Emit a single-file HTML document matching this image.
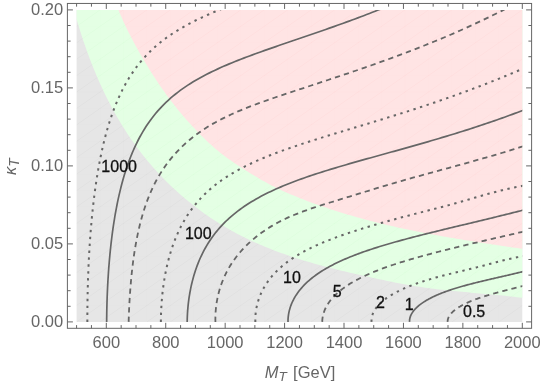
<!DOCTYPE html>
<html><head><meta charset="utf-8"><title>Contour plot</title>
<style>html,body{margin:0;padding:0;background:#fff;}body{width:540px;height:388px;position:relative;overflow:hidden;font-family:"Liberation Sans",sans-serif;}</style></head>
<body>
<svg width="540" height="388" viewBox="0 0 540 388" style="position:absolute;left:0;top:0;will-change:transform">
<defs><clipPath id="c"><rect x="76.59" y="9.90" width="445.71" height="312.00"/></clipPath></defs>
<g clip-path="url(#c)">
<rect x="75.59" y="8.90" width="447.71" height="314.00" fill="#e6e6e6"/>
<path d="M76.73,19.68 L77.54,22.40 L78.35,25.12 L79.18,27.83 L80.03,30.55 L80.89,33.26 L81.77,35.97 L82.66,38.68 L83.56,41.38 L84.48,44.08 L85.42,46.78 L86.37,49.48 L87.34,52.16 L88.32,54.85 L89.32,57.53 L90.34,60.21 L91.37,62.88 L92.42,65.54 L93.49,68.20 L94.57,70.85 L95.67,73.49 L96.79,76.13 L97.93,78.76 L99.08,81.39 L100.25,84.00 L101.44,86.61 L102.65,89.21 L103.88,91.80 L105.12,94.38 L106.38,96.95 L107.67,99.51 L108.97,102.06 L110.29,104.60 L111.63,107.13 L112.99,109.65 L114.37,112.16 L115.77,114.66 L117.19,117.14 L118.63,119.61 L120.10,122.07 L121.58,124.52 L123.08,126.95 L124.61,129.37 L126.15,131.78 L127.72,134.17 L129.31,136.55 L130.92,138.91 L132.55,141.26 L134.20,143.59 L135.88,145.91 L137.58,148.21 L139.30,150.50 L141.04,152.77 L142.81,155.02 L144.60,157.25 L146.41,159.47 L148.24,161.67 L150.09,163.86 L151.96,166.02 L153.86,168.17 L155.77,170.30 L157.70,172.41 L159.66,174.51 L161.63,176.58 L163.63,178.64 L165.64,180.68 L167.67,182.70 L169.73,184.70 L171.80,186.67 L173.89,188.63 L175.99,190.58 L178.12,192.50 L180.26,194.39 L182.42,196.27 L184.60,198.13 L186.80,199.97 L189.01,201.79 L191.24,203.58 L193.49,205.36 L195.75,207.11 L198.03,208.84 L200.33,210.55 L202.64,212.23 L204.97,213.90 L207.31,215.54 L209.67,217.16 L212.04,218.75 L214.43,220.32 L216.83,221.87 L219.25,223.40 L221.68,224.90 L224.13,226.37 L226.59,227.83 L229.06,229.26 L231.54,230.66 L234.04,232.04 L236.55,233.39 L239.08,234.72 L241.61,236.02 L244.16,237.30 L246.72,238.56 L249.30,239.79 L251.88,241.00 L254.47,242.19 L257.08,243.35 L259.69,244.49 L262.32,245.61 L264.95,246.71 L267.60,247.79 L270.25,248.85 L272.91,249.89 L275.59,250.91 L278.27,251.91 L280.95,252.89 L283.65,253.85 L286.35,254.80 L289.06,255.73 L291.78,256.64 L294.50,257.54 L297.23,258.42 L299.97,259.28 L302.71,260.13 L305.46,260.96 L308.21,261.78 L310.97,262.59 L313.73,263.38 L316.50,264.16 L319.27,264.93 L322.05,265.69 L324.82,266.43 L327.61,267.16 L330.39,267.89 L333.18,268.60 L335.97,269.30 L338.76,269.99 L341.55,270.67 L344.34,271.35 L347.14,272.01 L349.94,272.67 L352.73,273.32 L355.53,273.96 L358.33,274.60 L361.13,275.23 L363.92,275.86 L366.72,276.48 L369.52,277.09 L372.31,277.70 L375.10,278.31 L377.89,278.91 L380.68,279.50 L383.47,280.10 L386.26,280.68 L389.05,281.26 L391.83,281.82 L394.62,282.38 L397.41,282.93 L400.20,283.47 L403.00,283.99 L405.79,284.51 L408.59,285.01 L411.39,285.49 L414.19,285.97 L417.00,286.42 L419.81,286.86 L422.63,287.28 L425.45,287.68 L428.28,288.07 L431.10,288.44 L433.94,288.80 L436.77,289.15 L439.61,289.48 L442.46,289.80 L445.30,290.12 L448.15,290.42 L451.00,290.72 L453.85,291.00 L456.71,291.29 L459.56,291.56 L462.42,291.83 L465.28,292.10 L468.14,292.36 L471.00,292.63 L473.86,292.89 L476.72,293.14 L479.58,293.40 L482.44,293.66 L485.30,293.92 L488.16,294.19 L491.01,294.46 L493.87,294.73 L496.72,295.00 L499.57,295.28 L502.42,295.57 L505.26,295.87 L508.10,296.17 L510.94,296.48 L513.78,296.80 L516.61,297.13 L519.43,297.48 L522.26,297.83 L527.30,297.83 L527.30,4.90 L71.59,4.90 L71.59,19.68 Z" fill="#e4ffe4"/>
<path d="M118.40,4.90 L118.40,9.85 L119.36,12.18 L120.34,14.50 L121.34,16.81 L122.36,19.10 L123.39,21.39 L124.44,23.66 L125.51,25.92 L126.59,28.17 L127.68,30.42 L128.79,32.65 L129.91,34.87 L131.05,37.09 L132.20,39.30 L133.37,41.50 L134.54,43.70 L135.73,45.89 L136.94,48.07 L138.15,50.25 L139.38,52.42 L140.61,54.59 L141.86,56.76 L143.12,58.92 L144.39,61.08 L145.67,63.23 L146.96,65.37 L148.27,67.51 L149.59,69.65 L150.91,71.78 L152.25,73.90 L153.61,76.01 L154.97,78.11 L156.35,80.21 L157.73,82.30 L159.14,84.38 L160.55,86.45 L161.98,88.51 L163.42,90.56 L164.87,92.60 L166.34,94.63 L167.82,96.64 L169.31,98.65 L170.81,100.64 L172.33,102.62 L173.87,104.59 L175.41,106.54 L176.98,108.49 L178.55,110.42 L180.14,112.34 L181.74,114.24 L183.36,116.14 L184.99,118.02 L186.63,119.89 L188.29,121.75 L189.96,123.60 L191.65,125.44 L193.35,127.26 L195.06,129.08 L196.79,130.88 L198.53,132.68 L200.28,134.46 L202.04,136.23 L203.81,138.00 L205.59,139.74 L207.39,141.47 L209.21,143.19 L211.04,144.87 L212.90,146.54 L214.78,148.17 L216.68,149.78 L218.60,151.36 L220.54,152.91 L222.51,154.44 L224.49,155.95 L226.49,157.43 L228.50,158.89 L230.54,160.34 L232.58,161.76 L234.64,163.17 L236.72,164.57 L238.80,165.95 L240.90,167.32 L243.00,168.68 L245.11,170.02 L247.23,171.36 L249.36,172.69 L251.50,174.00 L253.65,175.30 L255.80,176.59 L257.96,177.87 L260.13,179.13 L262.30,180.38 L264.48,181.61 L266.67,182.82 L268.87,184.01 L271.08,185.18 L273.30,186.33 L275.54,187.44 L277.78,188.53 L280.04,189.60 L282.31,190.65 L284.58,191.68 L286.86,192.68 L289.16,193.67 L291.45,194.65 L293.76,195.61 L296.07,196.56 L298.39,197.50 L300.71,198.42 L303.03,199.34 L305.36,200.24 L307.70,201.13 L310.04,202.01 L312.39,202.88 L314.74,203.74 L317.09,204.59 L319.45,205.42 L321.81,206.25 L324.18,207.06 L326.55,207.87 L328.92,208.66 L331.30,209.45 L333.68,210.22 L336.07,210.98 L338.46,211.74 L340.85,212.48 L343.25,213.22 L345.65,213.94 L348.05,214.66 L350.45,215.36 L352.86,216.06 L355.27,216.75 L357.68,217.42 L360.10,218.09 L362.51,218.75 L364.93,219.41 L367.35,220.05 L369.78,220.68 L372.20,221.31 L374.63,221.93 L377.06,222.54 L379.49,223.14 L381.92,223.73 L384.35,224.32 L386.79,224.90 L389.22,225.47 L391.66,226.03 L394.10,226.59 L396.54,227.14 L398.98,227.68 L401.43,228.21 L403.87,228.74 L406.32,229.26 L408.77,229.78 L411.21,230.29 L413.66,230.79 L416.12,231.29 L418.57,231.78 L421.02,232.26 L423.48,232.74 L425.93,233.22 L428.39,233.69 L430.85,234.15 L433.31,234.61 L435.77,235.06 L438.23,235.51 L440.69,235.95 L443.15,236.39 L445.62,236.83 L448.08,237.26 L450.55,237.68 L453.01,238.11 L455.48,238.53 L457.95,238.94 L460.42,239.35 L462.89,239.76 L465.36,240.16 L467.83,240.56 L470.30,240.96 L472.77,241.36 L475.24,241.75 L477.71,242.14 L480.19,242.52 L482.66,242.91 L485.14,243.29 L487.61,243.67 L490.09,244.05 L492.56,244.42 L495.04,244.80 L497.51,245.17 L499.99,245.54 L502.47,245.91 L504.95,246.28 L507.42,246.64 L509.90,247.01 L512.38,247.38 L514.86,247.74 L517.33,248.10 L519.81,248.47 L522.29,248.83 L527.30,248.83 L527.30,4.90 Z" fill="#ffe4e4"/>
<defs><clipPath id="cg"><path d="M76.73,19.68 L77.54,22.40 L78.35,25.12 L79.18,27.83 L80.03,30.55 L80.89,33.26 L81.77,35.97 L82.66,38.68 L83.56,41.38 L84.48,44.08 L85.42,46.78 L86.37,49.48 L87.34,52.16 L88.32,54.85 L89.32,57.53 L90.34,60.21 L91.37,62.88 L92.42,65.54 L93.49,68.20 L94.57,70.85 L95.67,73.49 L96.79,76.13 L97.93,78.76 L99.08,81.39 L100.25,84.00 L101.44,86.61 L102.65,89.21 L103.88,91.80 L105.12,94.38 L106.38,96.95 L107.67,99.51 L108.97,102.06 L110.29,104.60 L111.63,107.13 L112.99,109.65 L114.37,112.16 L115.77,114.66 L117.19,117.14 L118.63,119.61 L120.10,122.07 L121.58,124.52 L123.08,126.95 L124.61,129.37 L126.15,131.78 L127.72,134.17 L129.31,136.55 L130.92,138.91 L132.55,141.26 L134.20,143.59 L135.88,145.91 L137.58,148.21 L139.30,150.50 L141.04,152.77 L142.81,155.02 L144.60,157.25 L146.41,159.47 L148.24,161.67 L150.09,163.86 L151.96,166.02 L153.86,168.17 L155.77,170.30 L157.70,172.41 L159.66,174.51 L161.63,176.58 L163.63,178.64 L165.64,180.68 L167.67,182.70 L169.73,184.70 L171.80,186.67 L173.89,188.63 L175.99,190.58 L178.12,192.50 L180.26,194.39 L182.42,196.27 L184.60,198.13 L186.80,199.97 L189.01,201.79 L191.24,203.58 L193.49,205.36 L195.75,207.11 L198.03,208.84 L200.33,210.55 L202.64,212.23 L204.97,213.90 L207.31,215.54 L209.67,217.16 L212.04,218.75 L214.43,220.32 L216.83,221.87 L219.25,223.40 L221.68,224.90 L224.13,226.37 L226.59,227.83 L229.06,229.26 L231.54,230.66 L234.04,232.04 L236.55,233.39 L239.08,234.72 L241.61,236.02 L244.16,237.30 L246.72,238.56 L249.30,239.79 L251.88,241.00 L254.47,242.19 L257.08,243.35 L259.69,244.49 L262.32,245.61 L264.95,246.71 L267.60,247.79 L270.25,248.85 L272.91,249.89 L275.59,250.91 L278.27,251.91 L280.95,252.89 L283.65,253.85 L286.35,254.80 L289.06,255.73 L291.78,256.64 L294.50,257.54 L297.23,258.42 L299.97,259.28 L302.71,260.13 L305.46,260.96 L308.21,261.78 L310.97,262.59 L313.73,263.38 L316.50,264.16 L319.27,264.93 L322.05,265.69 L324.82,266.43 L327.61,267.16 L330.39,267.89 L333.18,268.60 L335.97,269.30 L338.76,269.99 L341.55,270.67 L344.34,271.35 L347.14,272.01 L349.94,272.67 L352.73,273.32 L355.53,273.96 L358.33,274.60 L361.13,275.23 L363.92,275.86 L366.72,276.48 L369.52,277.09 L372.31,277.70 L375.10,278.31 L377.89,278.91 L380.68,279.50 L383.47,280.10 L386.26,280.68 L389.05,281.26 L391.83,281.82 L394.62,282.38 L397.41,282.93 L400.20,283.47 L403.00,283.99 L405.79,284.51 L408.59,285.01 L411.39,285.49 L414.19,285.97 L417.00,286.42 L419.81,286.86 L422.63,287.28 L425.45,287.68 L428.28,288.07 L431.10,288.44 L433.94,288.80 L436.77,289.15 L439.61,289.48 L442.46,289.80 L445.30,290.12 L448.15,290.42 L451.00,290.72 L453.85,291.00 L456.71,291.29 L459.56,291.56 L462.42,291.83 L465.28,292.10 L468.14,292.36 L471.00,292.63 L473.86,292.89 L476.72,293.14 L479.58,293.40 L482.44,293.66 L485.30,293.92 L488.16,294.19 L491.01,294.46 L493.87,294.73 L496.72,295.00 L499.57,295.28 L502.42,295.57 L505.26,295.87 L508.10,296.17 L510.94,296.48 L513.78,296.80 L516.61,297.13 L519.43,297.48 L522.26,297.83 L527.30,297.83 L527.30,326.90 L71.59,326.90 L71.59,19.68 Z"/></clipPath><clipPath id="cn"><path d="M71.59,19.68 L76.73,19.68 L77.54,22.40 L78.35,25.12 L79.18,27.83 L80.03,30.55 L80.89,33.26 L81.77,35.97 L82.66,38.68 L83.56,41.38 L84.48,44.08 L85.42,46.78 L86.37,49.48 L87.34,52.16 L88.32,54.85 L89.32,57.53 L90.34,60.21 L91.37,62.88 L92.42,65.54 L93.49,68.20 L94.57,70.85 L95.67,73.49 L96.79,76.13 L97.93,78.76 L99.08,81.39 L100.25,84.00 L101.44,86.61 L102.65,89.21 L103.88,91.80 L105.12,94.38 L106.38,96.95 L107.67,99.51 L108.97,102.06 L110.29,104.60 L111.63,107.13 L112.99,109.65 L114.37,112.16 L115.77,114.66 L117.19,117.14 L118.63,119.61 L120.10,122.07 L121.58,124.52 L123.08,126.95 L124.61,129.37 L126.15,131.78 L127.72,134.17 L129.31,136.55 L130.92,138.91 L132.55,141.26 L134.20,143.59 L135.88,145.91 L137.58,148.21 L139.30,150.50 L141.04,152.77 L142.81,155.02 L144.60,157.25 L146.41,159.47 L148.24,161.67 L150.09,163.86 L151.96,166.02 L153.86,168.17 L155.77,170.30 L157.70,172.41 L159.66,174.51 L161.63,176.58 L163.63,178.64 L165.64,180.68 L167.67,182.70 L169.73,184.70 L171.80,186.67 L173.89,188.63 L175.99,190.58 L178.12,192.50 L180.26,194.39 L182.42,196.27 L184.60,198.13 L186.80,199.97 L189.01,201.79 L191.24,203.58 L193.49,205.36 L195.75,207.11 L198.03,208.84 L200.33,210.55 L202.64,212.23 L204.97,213.90 L207.31,215.54 L209.67,217.16 L212.04,218.75 L214.43,220.32 L216.83,221.87 L219.25,223.40 L221.68,224.90 L224.13,226.37 L226.59,227.83 L229.06,229.26 L231.54,230.66 L234.04,232.04 L236.55,233.39 L239.08,234.72 L241.61,236.02 L244.16,237.30 L246.72,238.56 L249.30,239.79 L251.88,241.00 L254.47,242.19 L257.08,243.35 L259.69,244.49 L262.32,245.61 L264.95,246.71 L267.60,247.79 L270.25,248.85 L272.91,249.89 L275.59,250.91 L278.27,251.91 L280.95,252.89 L283.65,253.85 L286.35,254.80 L289.06,255.73 L291.78,256.64 L294.50,257.54 L297.23,258.42 L299.97,259.28 L302.71,260.13 L305.46,260.96 L308.21,261.78 L310.97,262.59 L313.73,263.38 L316.50,264.16 L319.27,264.93 L322.05,265.69 L324.82,266.43 L327.61,267.16 L330.39,267.89 L333.18,268.60 L335.97,269.30 L338.76,269.99 L341.55,270.67 L344.34,271.35 L347.14,272.01 L349.94,272.67 L352.73,273.32 L355.53,273.96 L358.33,274.60 L361.13,275.23 L363.92,275.86 L366.72,276.48 L369.52,277.09 L372.31,277.70 L375.10,278.31 L377.89,278.91 L380.68,279.50 L383.47,280.10 L386.26,280.68 L389.05,281.26 L391.83,281.82 L394.62,282.38 L397.41,282.93 L400.20,283.47 L403.00,283.99 L405.79,284.51 L408.59,285.01 L411.39,285.49 L414.19,285.97 L417.00,286.42 L419.81,286.86 L422.63,287.28 L425.45,287.68 L428.28,288.07 L431.10,288.44 L433.94,288.80 L436.77,289.15 L439.61,289.48 L442.46,289.80 L445.30,290.12 L448.15,290.42 L451.00,290.72 L453.85,291.00 L456.71,291.29 L459.56,291.56 L462.42,291.83 L465.28,292.10 L468.14,292.36 L471.00,292.63 L473.86,292.89 L476.72,293.14 L479.58,293.40 L482.44,293.66 L485.30,293.92 L488.16,294.19 L491.01,294.46 L493.87,294.73 L496.72,295.00 L499.57,295.28 L502.42,295.57 L505.26,295.87 L508.10,296.17 L510.94,296.48 L513.78,296.80 L516.61,297.13 L519.43,297.48 L522.26,297.83 L527.30,297.83 L527.30,248.83 L522.29,248.83 L519.81,248.47 L517.33,248.10 L514.86,247.74 L512.38,247.38 L509.90,247.01 L507.42,246.64 L504.95,246.28 L502.47,245.91 L499.99,245.54 L497.51,245.17 L495.04,244.80 L492.56,244.42 L490.09,244.05 L487.61,243.67 L485.14,243.29 L482.66,242.91 L480.19,242.52 L477.71,242.14 L475.24,241.75 L472.77,241.36 L470.30,240.96 L467.83,240.56 L465.36,240.16 L462.89,239.76 L460.42,239.35 L457.95,238.94 L455.48,238.53 L453.01,238.11 L450.55,237.68 L448.08,237.26 L445.62,236.83 L443.15,236.39 L440.69,235.95 L438.23,235.51 L435.77,235.06 L433.31,234.61 L430.85,234.15 L428.39,233.69 L425.93,233.22 L423.48,232.74 L421.02,232.26 L418.57,231.78 L416.12,231.29 L413.66,230.79 L411.21,230.29 L408.77,229.78 L406.32,229.26 L403.87,228.74 L401.43,228.21 L398.98,227.68 L396.54,227.14 L394.10,226.59 L391.66,226.03 L389.22,225.47 L386.79,224.90 L384.35,224.32 L381.92,223.73 L379.49,223.14 L377.06,222.54 L374.63,221.93 L372.20,221.31 L369.78,220.68 L367.35,220.05 L364.93,219.41 L362.51,218.75 L360.10,218.09 L357.68,217.42 L355.27,216.75 L352.86,216.06 L350.45,215.36 L348.05,214.66 L345.65,213.94 L343.25,213.22 L340.85,212.48 L338.46,211.74 L336.07,210.98 L333.68,210.22 L331.30,209.45 L328.92,208.66 L326.55,207.87 L324.18,207.06 L321.81,206.25 L319.45,205.42 L317.09,204.59 L314.74,203.74 L312.39,202.88 L310.04,202.01 L307.70,201.13 L305.36,200.24 L303.03,199.34 L300.71,198.42 L298.39,197.50 L296.07,196.56 L293.76,195.61 L291.45,194.65 L289.16,193.67 L286.86,192.68 L284.58,191.68 L282.31,190.65 L280.04,189.60 L277.78,188.53 L275.54,187.44 L273.30,186.33 L271.08,185.18 L268.87,184.01 L266.67,182.82 L264.48,181.61 L262.30,180.38 L260.13,179.13 L257.96,177.87 L255.80,176.59 L253.65,175.30 L251.50,174.00 L249.36,172.69 L247.23,171.36 L245.11,170.02 L243.00,168.68 L240.90,167.32 L238.80,165.95 L236.72,164.57 L234.64,163.17 L232.58,161.76 L230.54,160.34 L228.50,158.89 L226.49,157.43 L224.49,155.95 L222.51,154.44 L220.54,152.91 L218.60,151.36 L216.68,149.78 L214.78,148.17 L212.90,146.54 L211.04,144.87 L209.21,143.19 L207.39,141.47 L205.59,139.74 L203.81,138.00 L202.04,136.23 L200.28,134.46 L198.53,132.68 L196.79,130.88 L195.06,129.08 L193.35,127.26 L191.65,125.44 L189.96,123.60 L188.29,121.75 L186.63,119.89 L184.99,118.02 L183.36,116.14 L181.74,114.24 L180.14,112.34 L178.55,110.42 L176.98,108.49 L175.41,106.54 L173.87,104.59 L172.33,102.62 L170.81,100.64 L169.31,98.65 L167.82,96.64 L166.34,94.63 L164.87,92.60 L163.42,90.56 L161.98,88.51 L160.55,86.45 L159.14,84.38 L157.73,82.30 L156.35,80.21 L154.97,78.11 L153.61,76.01 L152.25,73.90 L150.91,71.78 L149.59,69.65 L148.27,67.51 L146.96,65.37 L145.67,63.23 L144.39,61.08 L143.12,58.92 L141.86,56.76 L140.61,54.59 L139.38,52.42 L138.15,50.25 L136.94,48.07 L135.73,45.89 L134.54,43.70 L133.37,41.50 L132.20,39.30 L131.05,37.09 L129.91,34.87 L128.79,32.65 L127.68,30.42 L126.59,28.17 L125.51,25.92 L124.44,23.66 L123.39,21.39 L122.36,19.10 L121.34,16.81 L120.34,14.50 L119.36,12.18 L118.40,9.85 L118.40,4.90 L71.59,4.90 Z"/></clipPath><clipPath id="cp"><path d="M118.40,4.90 L118.40,9.85 L119.36,12.18 L120.34,14.50 L121.34,16.81 L122.36,19.10 L123.39,21.39 L124.44,23.66 L125.51,25.92 L126.59,28.17 L127.68,30.42 L128.79,32.65 L129.91,34.87 L131.05,37.09 L132.20,39.30 L133.37,41.50 L134.54,43.70 L135.73,45.89 L136.94,48.07 L138.15,50.25 L139.38,52.42 L140.61,54.59 L141.86,56.76 L143.12,58.92 L144.39,61.08 L145.67,63.23 L146.96,65.37 L148.27,67.51 L149.59,69.65 L150.91,71.78 L152.25,73.90 L153.61,76.01 L154.97,78.11 L156.35,80.21 L157.73,82.30 L159.14,84.38 L160.55,86.45 L161.98,88.51 L163.42,90.56 L164.87,92.60 L166.34,94.63 L167.82,96.64 L169.31,98.65 L170.81,100.64 L172.33,102.62 L173.87,104.59 L175.41,106.54 L176.98,108.49 L178.55,110.42 L180.14,112.34 L181.74,114.24 L183.36,116.14 L184.99,118.02 L186.63,119.89 L188.29,121.75 L189.96,123.60 L191.65,125.44 L193.35,127.26 L195.06,129.08 L196.79,130.88 L198.53,132.68 L200.28,134.46 L202.04,136.23 L203.81,138.00 L205.59,139.74 L207.39,141.47 L209.21,143.19 L211.04,144.87 L212.90,146.54 L214.78,148.17 L216.68,149.78 L218.60,151.36 L220.54,152.91 L222.51,154.44 L224.49,155.95 L226.49,157.43 L228.50,158.89 L230.54,160.34 L232.58,161.76 L234.64,163.17 L236.72,164.57 L238.80,165.95 L240.90,167.32 L243.00,168.68 L245.11,170.02 L247.23,171.36 L249.36,172.69 L251.50,174.00 L253.65,175.30 L255.80,176.59 L257.96,177.87 L260.13,179.13 L262.30,180.38 L264.48,181.61 L266.67,182.82 L268.87,184.01 L271.08,185.18 L273.30,186.33 L275.54,187.44 L277.78,188.53 L280.04,189.60 L282.31,190.65 L284.58,191.68 L286.86,192.68 L289.16,193.67 L291.45,194.65 L293.76,195.61 L296.07,196.56 L298.39,197.50 L300.71,198.42 L303.03,199.34 L305.36,200.24 L307.70,201.13 L310.04,202.01 L312.39,202.88 L314.74,203.74 L317.09,204.59 L319.45,205.42 L321.81,206.25 L324.18,207.06 L326.55,207.87 L328.92,208.66 L331.30,209.45 L333.68,210.22 L336.07,210.98 L338.46,211.74 L340.85,212.48 L343.25,213.22 L345.65,213.94 L348.05,214.66 L350.45,215.36 L352.86,216.06 L355.27,216.75 L357.68,217.42 L360.10,218.09 L362.51,218.75 L364.93,219.41 L367.35,220.05 L369.78,220.68 L372.20,221.31 L374.63,221.93 L377.06,222.54 L379.49,223.14 L381.92,223.73 L384.35,224.32 L386.79,224.90 L389.22,225.47 L391.66,226.03 L394.10,226.59 L396.54,227.14 L398.98,227.68 L401.43,228.21 L403.87,228.74 L406.32,229.26 L408.77,229.78 L411.21,230.29 L413.66,230.79 L416.12,231.29 L418.57,231.78 L421.02,232.26 L423.48,232.74 L425.93,233.22 L428.39,233.69 L430.85,234.15 L433.31,234.61 L435.77,235.06 L438.23,235.51 L440.69,235.95 L443.15,236.39 L445.62,236.83 L448.08,237.26 L450.55,237.68 L453.01,238.11 L455.48,238.53 L457.95,238.94 L460.42,239.35 L462.89,239.76 L465.36,240.16 L467.83,240.56 L470.30,240.96 L472.77,241.36 L475.24,241.75 L477.71,242.14 L480.19,242.52 L482.66,242.91 L485.14,243.29 L487.61,243.67 L490.09,244.05 L492.56,244.42 L495.04,244.80 L497.51,245.17 L499.99,245.54 L502.47,245.91 L504.95,246.28 L507.42,246.64 L509.90,247.01 L512.38,247.38 L514.86,247.74 L517.33,248.10 L519.81,248.47 L522.29,248.83 L527.30,248.83 L527.30,4.90 Z"/></clipPath></defs>
<defs><g id="mesh" fill="none"><path d="M-369.13,321.90L76.59,9.90 M-345.67,321.90L100.04,9.90 M-322.21,321.90L123.50,9.90 M-298.75,321.90L146.96,9.90 M-275.29,321.90L170.42,9.90 M-251.84,321.90L193.88,9.90 M-228.38,321.90L217.34,9.90 M-204.92,321.90L240.80,9.90 M-181.46,321.90L264.25,9.90 M-158.00,321.90L287.71,9.90 M-134.54,321.90L311.17,9.90 M-111.08,321.90L334.63,9.90 M-87.62,321.90L358.09,9.90 M-64.17,321.90L381.55,9.90 M-40.71,321.90L405.01,9.90 M-17.25,321.90L428.47,9.90 M6.21,321.90L451.92,9.90 M29.67,321.90L475.38,9.90 M53.13,321.90L498.84,9.90 M76.59,321.90L522.30,9.90 M100.04,321.90L545.76,9.90 M123.50,321.90L569.22,9.90 M146.96,321.90L592.68,9.90 M170.42,321.90L616.13,9.90 M193.88,321.90L639.59,9.90 M217.34,321.90L663.05,9.90 M240.80,321.90L686.51,9.90 M264.25,321.90L709.97,9.90 M287.71,321.90L733.43,9.90 M311.17,321.90L756.89,9.90 M334.63,321.90L780.35,9.90 M358.09,321.90L803.80,9.90 M381.55,321.90L827.26,9.90 M405.01,321.90L850.72,9.90 M428.47,321.90L874.18,9.90 M451.92,321.90L897.64,9.90 M475.38,321.90L921.10,9.90 M498.84,321.90L944.56,9.90" stroke-width="0.8" stroke-opacity="0.03"/><path d="M100.04,9.90V321.90 M123.50,9.90V321.90 M146.96,9.90V321.90 M170.42,9.90V321.90 M193.88,9.90V321.90 M217.34,9.90V321.90 M240.80,9.90V321.90 M264.25,9.90V321.90 M287.71,9.90V321.90 M311.17,9.90V321.90 M334.63,9.90V321.90 M358.09,9.90V321.90 M381.55,9.90V321.90 M405.01,9.90V321.90 M428.47,9.90V321.90 M451.92,9.90V321.90 M475.38,9.90V321.90 M498.84,9.90V321.90 M76.59,26.32H522.30 M76.59,42.74H522.30 M76.59,59.16H522.30 M76.59,75.58H522.30 M76.59,92.01H522.30 M76.59,108.43H522.30 M76.59,124.85H522.30 M76.59,141.27H522.30 M76.59,157.69H522.30 M76.59,174.11H522.30 M76.59,190.53H522.30 M76.59,206.95H522.30 M76.59,223.37H522.30 M76.59,239.79H522.30 M76.59,256.22H522.30 M76.59,272.64H522.30 M76.59,289.06H522.30 M76.59,305.48H522.30" stroke-width="0.6" stroke-opacity="0.015"/></g></defs>
<use href="#mesh" clip-path="url(#cg)" stroke="#000"/><use href="#mesh" clip-path="url(#cn)" stroke="#00c000"/><use href="#mesh" clip-path="url(#cp)" stroke="#ff0000"/>
<path d="M87.35,321.90 L87.35,319.43 L87.35,316.95 L87.36,314.48 L87.37,312.01 L87.39,309.54 L87.42,307.06 L87.44,304.59 L87.48,302.12 L87.52,299.65 L87.56,297.17 L87.61,294.70 L87.66,292.23 L87.72,289.76 L87.78,287.29 L87.85,284.81 L87.92,282.34 L88.00,279.87 L88.08,277.40 L88.17,274.93 L88.27,272.46 L88.37,269.99 L88.47,267.52 L88.58,265.05 L88.70,262.58 L88.82,260.11 L88.94,257.64 L89.08,255.17 L89.22,252.70 L89.36,250.23 L89.51,247.76 L89.67,245.30 L89.83,242.83 L90.00,240.36 L90.18,237.90 L90.36,235.43 L90.55,232.97 L90.74,230.50 L90.94,228.04 L91.15,225.57 L91.37,223.11 L91.59,220.65 L91.82,218.19 L92.06,215.72 L92.31,213.26 L92.56,210.80 L92.83,208.35 L93.10,205.89 L93.38,203.43 L93.66,200.98 L93.96,198.52 L94.26,196.07 L94.58,193.62 L94.90,191.17 L95.24,188.72 L95.58,186.27 L95.93,183.82 L96.30,181.38 L96.67,178.93 L97.06,176.49 L97.46,174.05 L97.86,171.61 L98.28,169.18 L98.72,166.74 L99.16,164.31 L99.62,161.88 L100.09,159.45 L100.58,157.03 L101.07,154.61 L101.59,152.19 L102.12,149.78 L102.66,147.36 L103.22,144.96 L103.79,142.55 L104.38,140.15 L104.99,137.76 L105.62,135.37 L106.26,132.98 L106.93,130.60 L107.61,128.22 L108.31,125.85 L109.04,123.49 L109.78,121.13 L110.55,118.78 L111.34,116.44 L112.15,114.11 L112.98,111.78 L113.84,109.46 L114.73,107.16 L115.64,104.86 L116.58,102.57 L117.54,100.30 L118.54,98.04 L119.56,95.79 L120.61,93.55 L121.69,91.33 L122.80,89.12 L123.95,86.93 L125.12,84.75 L126.33,82.60 L127.57,80.46 L128.84,78.34 L130.15,76.25 L131.50,74.17 L132.87,72.12 L134.29,70.10 L135.74,68.09 L137.22,66.12 L138.74,64.16 L140.29,62.24 L141.88,60.35 L143.50,58.48 L145.16,56.65 L146.84,54.84 L148.57,53.07 L150.32,51.33 L152.11,49.62 L153.92,47.94 L155.77,46.30 L157.64,44.68 L159.54,43.10 L161.47,41.56 L163.43,40.04 L165.40,38.56 L167.40,37.10 L169.43,35.68 L171.47,34.29 L173.54,32.93 L175.62,31.59 L177.72,30.29 L179.84,29.01 L181.97,27.76 L184.12,26.53 L186.28,25.33 L188.45,24.15 L190.64,23.00 L192.84,21.86 L195.05,20.75 L197.27,19.66 L199.50,18.59 L201.74,17.53 L203.98,16.49 L206.24,15.47 L208.50,14.47 L210.76,13.48 L213.04,12.50 L215.31,11.54 L217.60,10.59 L219.89,9.65 L222.18,8.72 L224.48,7.81 L226.78,6.90 L229.09,6.00 L231.40,5.11 L233.71,4.23 L236.02,3.36 L238.34,2.49 L240.66,1.63 L242.98,0.77 L245.30,-0.08" fill="none" stroke="#666" stroke-width="2" stroke-dasharray="2.4 4.5"/>
<path d="M106.66,321.90 L106.68,318.79 L106.72,315.69 L106.76,312.58 L106.82,309.47 L106.89,306.37 L106.97,303.26 L107.07,300.16 L107.17,297.05 L107.29,293.95 L107.42,290.85 L107.56,287.74 L107.72,284.64 L107.88,281.54 L108.06,278.44 L108.26,275.34 L108.46,272.24 L108.68,269.14 L108.92,266.04 L109.17,262.95 L109.43,259.85 L109.71,256.76 L110.00,253.67 L110.31,250.58 L110.63,247.49 L110.97,244.40 L111.32,241.31 L111.70,238.23 L112.09,235.15 L112.49,232.07 L112.92,228.99 L113.37,225.92 L113.83,222.85 L114.32,219.78 L114.82,216.71 L115.35,213.65 L115.90,210.59 L116.48,207.54 L117.07,204.49 L117.69,201.45 L118.34,198.41 L119.02,195.38 L119.72,192.35 L120.45,189.33 L121.21,186.32 L121.99,183.31 L122.82,180.32 L123.67,177.33 L124.56,174.35 L125.48,171.38 L126.44,168.43 L127.44,165.49 L128.48,162.56 L129.56,159.64 L130.68,156.74 L131.84,153.86 L133.05,151.00 L134.31,148.15 L135.61,145.33 L136.96,142.53 L138.37,139.76 L139.82,137.01 L141.33,134.29 L142.89,131.61 L144.51,128.95 L146.18,126.33 L147.91,123.74 L149.69,121.20 L151.53,118.69 L153.43,116.23 L155.38,113.81 L157.39,111.43 L159.46,109.11 L161.57,106.83 L163.74,104.60 L165.96,102.42 L168.23,100.30 L170.54,98.22 L172.91,96.20 L175.31,94.23 L177.75,92.31 L180.24,90.44 L182.76,88.62 L185.31,86.85 L187.90,85.13 L190.52,83.45 L193.16,81.82 L195.83,80.23 L198.52,78.68 L201.24,77.17 L203.98,75.70 L206.73,74.27 L209.51,72.87 L212.30,71.50 L215.10,70.17 L217.92,68.86 L220.75,67.58 L223.59,66.33 L226.44,65.10 L229.30,63.89 L232.17,62.70 L235.05,61.54 L237.94,60.39 L240.83,59.26 L243.73,58.14 L246.63,57.04 L249.54,55.95 L252.45,54.87 L255.36,53.81 L258.28,52.75 L261.21,51.71 L264.13,50.67 L267.06,49.64 L269.99,48.61 L272.92,47.59 L275.85,46.58 L278.79,45.57 L281.72,44.56 L284.66,43.55 L287.60,42.55 L290.53,41.55 L293.47,40.55 L296.41,39.55 L299.35,38.54 L302.28,37.54 L305.22,36.54 L308.16,35.54 L311.09,34.53 L314.03,33.52 L316.96,32.51 L319.89,31.49 L322.82,30.47 L325.75,29.45 L328.68,28.42 L331.61,27.39 L334.53,26.36 L337.45,25.31 L340.38,24.27 L343.29,23.22 L346.21,22.16 L349.12,21.09 L352.04,20.02 L354.95,18.94 L357.85,17.86 L360.76,16.77 L363.66,15.67 L366.56,14.57 L369.45,13.45 L372.35,12.33 L375.23,11.20 L378.12,10.07 L381.01,8.93 L383.89,7.78 L386.77,6.62 L389.64,5.45 L392.51,4.28 L395.38,3.10 L398.24,1.90 L401.10,0.70 L403.96,-0.51" fill="none" stroke="#666" stroke-width="1.7"/>
<path d="M128.64,321.90 L128.75,318.36 L128.87,314.82 L129.01,311.29 L129.17,307.75 L129.35,304.22 L129.54,300.69 L129.76,297.16 L129.99,293.63 L130.24,290.11 L130.51,286.58 L130.81,283.06 L131.12,279.54 L131.46,276.02 L131.82,272.50 L132.21,268.99 L132.62,265.48 L133.06,261.97 L133.53,258.47 L134.03,254.97 L134.56,251.48 L135.12,247.99 L135.71,244.50 L136.34,241.03 L137.01,237.55 L137.72,234.09 L138.47,230.63 L139.26,227.19 L140.10,223.75 L140.98,220.33 L141.91,216.91 L142.90,213.52 L143.94,210.14 L145.04,206.77 L146.20,203.43 L147.42,200.11 L148.70,196.81 L150.05,193.54 L151.47,190.29 L152.96,187.08 L154.52,183.91 L156.16,180.77 L157.87,177.67 L159.66,174.62 L161.53,171.62 L163.47,168.66 L165.48,165.75 L167.57,162.90 L169.73,160.11 L171.97,157.37 L174.27,154.70 L176.65,152.08 L179.09,149.53 L181.59,147.04 L184.15,144.61 L186.78,142.25 L189.46,139.96 L192.19,137.72 L194.98,135.56 L197.82,133.46 L200.70,131.42 L203.63,129.45 L206.60,127.54 L209.61,125.69 L212.65,123.90 L215.73,122.17 L218.84,120.49 L221.98,118.87 L225.14,117.29 L228.32,115.77 L231.52,114.28 L234.74,112.84 L237.98,111.43 L241.24,110.06 L244.50,108.72 L247.78,107.41 L251.07,106.13 L254.37,104.88 L257.68,103.64 L261.00,102.43 L264.32,101.24 L267.65,100.06 L270.98,98.90 L274.32,97.75 L277.66,96.61 L281.00,95.48 L284.35,94.36 L287.70,93.24 L291.05,92.13 L294.41,91.02 L297.76,89.91 L301.12,88.81 L304.47,87.71 L307.83,86.61 L311.18,85.51 L314.54,84.41 L317.90,83.31 L321.25,82.21 L324.61,81.11 L327.96,80.00 L331.32,78.89 L334.67,77.78 L338.02,76.66 L341.37,75.54 L344.72,74.42 L348.07,73.29 L351.42,72.16 L354.76,71.02 L358.11,69.88 L361.45,68.73 L364.79,67.58 L368.12,66.42 L371.46,65.26 L374.79,64.08 L378.12,62.91 L381.45,61.72 L384.77,60.52 L388.10,59.32 L391.42,58.11 L394.73,56.90 L398.04,55.67 L401.35,54.43 L404.66,53.19 L407.96,51.93 L411.26,50.67 L414.55,49.40 L417.84,48.11 L421.13,46.82 L424.41,45.52 L427.69,44.20 L430.97,42.88 L434.24,41.54 L437.50,40.20 L440.76,38.84 L444.02,37.47 L447.27,36.10 L450.52,34.71 L453.76,33.30 L456.99,31.89 L460.22,30.47 L463.45,29.03 L466.67,27.58 L469.88,26.12 L473.09,24.65 L476.30,23.16 L479.49,21.67 L482.69,20.16 L485.87,18.63 L489.05,17.10 L492.23,15.55 L495.39,13.99 L498.55,12.42 L501.71,10.84 L504.86,9.24 L508.01,7.64 L511.15,6.04 L514.28,4.41 L517.41,2.78 L520.53,1.13 L523.65,-0.53" fill="none" stroke="#666" stroke-width="1.8" stroke-dasharray="5.3 4.1"/>
<path d="M160.87,321.90 L160.91,318.81 L160.97,315.72 L161.07,312.63 L161.20,309.54 L161.37,306.46 L161.57,303.37 L161.80,300.29 L162.07,297.21 L162.37,294.14 L162.71,291.07 L163.09,288.00 L163.50,284.94 L163.95,281.88 L164.44,278.83 L164.97,275.79 L165.54,272.75 L166.15,269.73 L166.81,266.71 L167.51,263.70 L168.25,260.70 L169.04,257.72 L169.88,254.75 L170.77,251.79 L171.70,248.85 L172.69,245.92 L173.74,243.02 L174.84,240.13 L175.99,237.27 L177.20,234.43 L178.47,231.62 L179.80,228.83 L181.19,226.08 L182.65,223.36 L184.16,220.67 L185.74,218.02 L187.38,215.41 L189.09,212.84 L190.86,210.31 L192.69,207.83 L194.59,205.40 L196.54,203.02 L198.56,200.68 L200.63,198.40 L202.76,196.17 L204.94,194.00 L207.18,191.88 L209.47,189.81 L211.81,187.80 L214.19,185.84 L216.61,183.94 L219.08,182.09 L221.58,180.29 L224.12,178.54 L226.69,176.84 L229.30,175.19 L231.93,173.59 L234.59,172.03 L237.28,170.51 L239.98,169.03 L242.71,167.60 L245.46,166.20 L248.23,164.84 L251.01,163.51 L253.81,162.21 L256.62,160.94 L259.45,159.71 L262.29,158.50 L265.14,157.31 L267.99,156.15 L270.86,155.02 L273.74,153.90 L276.62,152.81 L279.52,151.73 L282.41,150.67 L285.32,149.63 L288.23,148.60 L291.14,147.59 L294.06,146.59 L296.99,145.60 L299.92,144.62 L302.85,143.66 L305.78,142.70 L308.72,141.75 L311.66,140.81 L314.60,139.88 L317.55,138.96 L320.50,138.04 L323.44,137.12 L326.39,136.21 L329.35,135.31 L332.30,134.40 L335.25,133.50 L338.21,132.61 L341.16,131.71 L344.12,130.82 L347.07,129.93 L350.03,129.04 L352.99,128.15 L355.94,127.26 L358.90,126.37 L361.86,125.47 L364.81,124.58 L367.77,123.69 L370.72,122.79 L373.68,121.89 L376.63,120.99 L379.59,120.09 L382.54,119.19 L385.49,118.28 L388.44,117.37 L391.39,116.45 L394.34,115.53 L397.29,114.61 L400.23,113.68 L403.18,112.75 L406.12,111.81 L409.06,110.87 L412.00,109.93 L414.94,108.98 L417.88,108.02 L420.81,107.06 L423.74,106.09 L426.68,105.12 L429.60,104.14 L432.53,103.15 L435.46,102.16 L438.38,101.17 L441.30,100.16 L444.22,99.15 L447.14,98.14 L450.05,97.11 L452.96,96.08 L455.87,95.04 L458.78,94.00 L461.68,92.95 L464.58,91.89 L467.48,90.82 L470.38,89.75 L473.27,88.67 L476.16,87.58 L479.05,86.48 L481.93,85.38 L484.82,84.26 L487.69,83.14 L490.57,82.01 L493.44,80.88 L496.31,79.73 L499.18,78.58 L502.04,77.42 L504.90,76.25 L507.75,75.07 L510.60,73.88 L513.45,72.69 L516.30,71.48 L519.14,70.27 L521.98,69.05 L524.81,67.82 L527.64,66.58 L530.46,65.33" fill="none" stroke="#666" stroke-width="2" stroke-dasharray="2.4 4.5"/>
<path d="M187.18,321.90 L187.23,319.15 L187.33,316.40 L187.46,313.65 L187.64,310.90 L187.86,308.16 L188.12,305.42 L188.42,302.69 L188.76,299.96 L189.14,297.24 L189.57,294.52 L190.04,291.81 L190.55,289.12 L191.11,286.43 L191.71,283.75 L192.36,281.08 L193.06,278.42 L193.80,275.78 L194.59,273.15 L195.43,270.54 L196.32,267.95 L197.26,265.37 L198.26,262.82 L199.30,260.28 L200.40,257.77 L201.55,255.28 L202.75,252.82 L204.01,250.39 L205.33,247.98 L206.70,245.61 L208.12,243.27 L209.60,240.96 L211.13,238.68 L212.71,236.45 L214.35,234.25 L216.04,232.09 L217.79,229.97 L219.58,227.89 L221.42,225.85 L223.31,223.86 L225.25,221.91 L227.23,220.00 L229.25,218.14 L231.31,216.32 L233.41,214.54 L235.55,212.81 L237.73,211.12 L239.93,209.47 L242.17,207.86 L244.44,206.29 L246.73,204.77 L249.05,203.28 L251.40,201.82 L253.77,200.41 L256.16,199.02 L258.56,197.68 L260.99,196.36 L263.43,195.08 L265.89,193.82 L268.37,192.60 L270.86,191.40 L273.36,190.24 L275.87,189.09 L278.40,187.98 L280.93,186.88 L283.48,185.81 L286.03,184.76 L288.60,183.74 L291.17,182.73 L293.74,181.74 L296.33,180.77 L298.92,179.82 L301.51,178.88 L304.11,177.96 L306.72,177.05 L309.33,176.16 L311.94,175.28 L314.56,174.41 L317.18,173.55 L319.81,172.71 L322.44,171.87 L325.07,171.04 L327.70,170.23 L330.34,169.42 L332.98,168.62 L335.62,167.82 L338.26,167.03 L340.90,166.25 L343.55,165.48 L346.19,164.71 L348.84,163.94 L351.49,163.18 L354.14,162.42 L356.79,161.67 L359.44,160.92 L362.10,160.17 L364.75,159.43 L367.40,158.69 L370.06,157.95 L372.71,157.21 L375.37,156.47 L378.02,155.73 L380.67,155.00 L383.33,154.26 L385.98,153.53 L388.64,152.79 L391.29,152.05 L393.95,151.32 L396.60,150.58 L399.26,149.84 L401.91,149.10 L404.56,148.36 L407.22,147.61 L409.87,146.87 L412.52,146.12 L415.17,145.37 L417.82,144.62 L420.47,143.86 L423.12,143.10 L425.76,142.34 L428.41,141.57 L431.06,140.80 L433.70,140.03 L436.34,139.25 L438.98,138.47 L441.62,137.69 L444.26,136.90 L446.90,136.10 L449.54,135.30 L452.17,134.50 L454.81,133.69 L457.44,132.88 L460.07,132.06 L462.70,131.23 L465.33,130.40 L467.95,129.57 L470.57,128.72 L473.20,127.88 L475.81,127.02 L478.43,126.16 L481.05,125.30 L483.66,124.42 L486.27,123.55 L488.88,122.66 L491.49,121.77 L494.09,120.87 L496.69,119.96 L499.29,119.05 L501.89,118.13 L504.49,117.20 L507.08,116.27 L509.67,115.32 L512.25,114.37 L514.84,113.42 L517.42,112.45 L519.99,111.48 L522.57,110.50 L525.15,109.53 L527.73,108.55 L530.30,107.57" fill="none" stroke="#666" stroke-width="1.7"/>
<path d="M215.43,321.90 L215.38,319.46 L215.40,317.03 L215.47,314.59 L215.60,312.16 L215.79,309.72 L216.03,307.30 L216.33,304.87 L216.68,302.46 L217.10,300.05 L217.57,297.66 L218.09,295.27 L218.67,292.90 L219.31,290.54 L220.01,288.20 L220.76,285.88 L221.57,283.57 L222.43,281.29 L223.35,279.03 L224.33,276.79 L225.36,274.58 L226.44,272.39 L227.58,270.23 L228.77,268.10 L230.01,266.00 L231.31,263.94 L232.65,261.90 L234.05,259.90 L235.49,257.93 L236.98,256.00 L238.51,254.10 L240.08,252.24 L241.70,250.41 L243.35,248.62 L245.05,246.86 L246.78,245.13 L248.54,243.44 L250.34,241.79 L252.17,240.17 L254.03,238.58 L255.92,237.02 L257.84,235.51 L259.78,234.02 L261.76,232.57 L263.76,231.16 L265.79,229.78 L267.84,228.44 L269.91,227.13 L272.01,225.86 L274.12,224.62 L276.26,223.42 L278.42,222.26 L280.60,221.13 L282.79,220.03 L285.00,218.97 L287.22,217.94 L289.45,216.94 L291.70,215.96 L293.96,215.01 L296.23,214.09 L298.50,213.19 L300.79,212.31 L303.08,211.45 L305.38,210.62 L307.68,209.80 L309.99,208.99 L312.31,208.20 L314.63,207.43 L316.95,206.66 L319.27,205.91 L321.60,205.16 L323.93,204.43 L326.26,203.70 L328.60,202.97 L330.93,202.25 L333.27,201.53 L335.60,200.82 L337.94,200.10 L340.27,199.39 L342.61,198.67 L344.95,197.95 L347.28,197.23 L349.62,196.52 L351.95,195.80 L354.29,195.08 L356.62,194.36 L358.96,193.64 L361.30,192.93 L363.64,192.21 L365.97,191.50 L368.31,190.78 L370.65,190.07 L372.99,189.36 L375.33,188.65 L377.67,187.94 L380.01,187.23 L382.36,186.53 L384.70,185.83 L387.04,185.13 L389.39,184.44 L391.74,183.75 L394.08,183.07 L396.43,182.39 L398.78,181.71 L401.13,181.04 L403.48,180.37 L405.84,179.70 L408.19,179.04 L410.54,178.38 L412.90,177.72 L415.26,177.07 L417.61,176.42 L419.97,175.77 L422.33,175.12 L424.68,174.47 L427.04,173.82 L429.40,173.18 L431.76,172.54 L434.12,171.89 L436.48,171.25 L438.83,170.61 L441.19,169.97 L443.55,169.33 L445.91,168.68 L448.27,168.04 L450.63,167.40 L452.99,166.75 L455.34,166.11 L457.70,165.46 L460.06,164.82 L462.42,164.17 L464.77,163.52 L467.13,162.86 L469.48,162.21 L471.84,161.55 L474.19,160.89 L476.55,160.23 L478.90,159.57 L481.25,158.90 L483.60,158.23 L485.95,157.56 L488.30,156.88 L490.65,156.20 L493.00,155.52 L495.35,154.83 L497.69,154.14 L500.03,153.44 L502.38,152.74 L504.72,152.04 L507.06,151.33 L509.40,150.61 L511.74,149.90 L514.07,149.17 L516.41,148.45 L518.74,147.71 L521.07,146.96 L523.39,146.20 L525.71,145.44 L528.04,144.68 L530.36,143.91" fill="none" stroke="#666" stroke-width="1.8" stroke-dasharray="5.3 4.1"/>
<path d="M255.35,321.90 L255.32,319.85 L255.35,317.80 L255.45,315.76 L255.62,313.71 L255.85,311.67 L256.15,309.64 L256.51,307.61 L256.94,305.60 L257.43,303.60 L257.98,301.62 L258.60,299.65 L259.28,297.71 L260.02,295.78 L260.82,293.88 L261.67,292.01 L262.59,290.16 L263.56,288.34 L264.58,286.54 L265.66,284.78 L266.78,283.05 L267.96,281.36 L269.18,279.69 L270.44,278.07 L271.75,276.47 L273.10,274.91 L274.49,273.38 L275.92,271.89 L277.38,270.44 L278.87,269.02 L280.39,267.63 L281.95,266.28 L283.53,264.95 L285.14,263.67 L286.77,262.41 L288.42,261.18 L290.10,259.99 L291.80,258.82 L293.51,257.69 L295.24,256.58 L296.99,255.49 L298.76,254.43 L300.54,253.40 L302.33,252.39 L304.13,251.41 L305.95,250.45 L307.78,249.50 L309.62,248.58 L311.46,247.68 L313.32,246.80 L315.18,245.93 L317.06,245.08 L318.94,244.25 L320.82,243.44 L322.71,242.64 L324.61,241.85 L326.52,241.08 L328.43,240.32 L330.34,239.57 L332.26,238.83 L334.18,238.11 L336.11,237.39 L338.04,236.69 L339.97,235.99 L341.91,235.31 L343.85,234.63 L345.79,233.96 L347.74,233.30 L349.69,232.65 L351.64,232.00 L353.59,231.36 L355.55,230.73 L357.51,230.10 L359.47,229.49 L361.43,228.87 L363.40,228.26 L365.36,227.66 L367.33,227.07 L369.30,226.47 L371.27,225.89 L373.24,225.31 L375.22,224.73 L377.19,224.16 L379.17,223.59 L381.15,223.02 L383.13,222.46 L385.11,221.90 L387.09,221.35 L389.07,220.80 L391.05,220.25 L393.04,219.71 L395.02,219.17 L397.01,218.63 L398.99,218.09 L400.98,217.56 L402.97,217.03 L404.96,216.50 L406.94,215.98 L408.93,215.46 L410.92,214.94 L412.92,214.42 L414.91,213.90 L416.90,213.39 L418.89,212.88 L420.89,212.37 L422.88,211.86 L424.87,211.35 L426.87,210.85 L428.86,210.34 L430.86,209.83 L432.85,209.32 L434.84,208.82 L436.84,208.30 L438.83,207.79 L440.82,207.27 L442.81,206.75 L444.80,206.22 L446.79,205.69 L448.78,205.15 L450.76,204.61 L452.74,204.06 L454.73,203.51 L456.71,202.94 L458.69,202.38 L460.67,201.81 L462.64,201.24 L464.62,200.67 L466.60,200.09 L468.57,199.52 L470.55,198.94 L472.53,198.36 L474.50,197.78 L476.48,197.21 L478.46,196.64 L480.43,196.07 L482.41,195.50 L484.39,194.94 L486.37,194.38 L488.35,193.82 L490.34,193.28 L492.32,192.74 L494.31,192.20 L496.30,191.68 L498.29,191.16 L500.28,190.65 L502.28,190.16 L504.28,189.67 L506.28,189.20 L508.29,188.74 L510.30,188.29 L512.31,187.85 L514.33,187.43 L516.35,187.03 L518.38,186.64 L520.41,186.26 L522.43,185.85 L524.41,185.30 L526.39,184.74 L528.37,184.19 L530.36,183.63" fill="none" stroke="#666" stroke-width="2" stroke-dasharray="2.4 4.5"/>
<path d="M288.01,321.90 L288.02,320.13 L288.10,318.37 L288.26,316.61 L288.48,314.86 L288.77,313.11 L289.13,311.38 L289.56,309.66 L290.05,307.96 L290.60,306.27 L291.22,304.61 L291.89,302.97 L292.62,301.36 L293.41,299.77 L294.25,298.20 L295.14,296.67 L296.09,295.16 L297.07,293.68 L298.10,292.24 L299.17,290.82 L300.28,289.43 L301.43,288.08 L302.62,286.75 L303.83,285.45 L305.08,284.18 L306.35,282.95 L307.66,281.74 L308.98,280.55 L310.34,279.40 L311.71,278.27 L313.11,277.17 L314.52,276.10 L315.96,275.05 L317.41,274.02 L318.88,273.02 L320.36,272.04 L321.86,271.08 L323.37,270.14 L324.89,269.22 L326.43,268.32 L327.97,267.45 L329.53,266.59 L331.09,265.75 L332.67,264.92 L334.25,264.11 L335.84,263.32 L337.44,262.54 L339.04,261.78 L340.66,261.04 L342.28,260.30 L343.90,259.58 L345.53,258.88 L347.16,258.18 L348.80,257.50 L350.45,256.83 L352.10,256.17 L353.75,255.52 L355.41,254.88 L357.07,254.25 L358.73,253.63 L360.40,253.02 L362.07,252.41 L363.74,251.82 L365.42,251.24 L367.10,250.66 L368.78,250.09 L370.47,249.53 L372.15,248.97 L373.84,248.42 L375.53,247.88 L377.22,247.34 L378.92,246.81 L380.62,246.29 L382.31,245.77 L384.01,245.26 L385.71,244.75 L387.42,244.25 L389.12,243.75 L390.83,243.26 L392.53,242.77 L394.24,242.28 L395.95,241.80 L397.66,241.33 L399.37,240.85 L401.08,240.38 L402.79,239.92 L404.51,239.46 L406.22,239.00 L407.94,238.54 L409.65,238.09 L411.37,237.64 L413.09,237.19 L414.80,236.74 L416.52,236.30 L418.24,235.86 L419.96,235.42 L421.68,234.98 L423.40,234.55 L425.12,234.11 L426.84,233.68 L428.57,233.25 L430.29,232.82 L432.01,232.40 L433.73,231.97 L435.46,231.55 L437.18,231.13 L438.91,230.70 L440.63,230.28 L442.35,229.86 L444.08,229.44 L445.80,229.03 L447.53,228.61 L449.25,228.19 L450.98,227.78 L452.70,227.36 L454.43,226.95 L456.15,226.53 L457.88,226.12 L459.61,225.70 L461.33,225.29 L463.06,224.88 L464.78,224.46 L466.51,224.05 L468.23,223.63 L469.96,223.22 L471.69,222.81 L473.41,222.39 L475.14,221.98 L476.86,221.56 L478.59,221.15 L480.31,220.73 L482.04,220.32 L483.76,219.90 L485.49,219.48 L487.21,219.06 L488.94,218.65 L490.66,218.23 L492.39,217.81 L494.11,217.39 L495.83,216.96 L497.56,216.54 L499.28,216.12 L501.00,215.69 L502.73,215.27 L504.45,214.84 L506.17,214.42 L507.89,213.99 L509.62,213.56 L511.34,213.13 L513.06,212.69 L514.78,212.26 L516.50,211.83 L518.22,211.39 L519.94,210.95 L521.66,210.51 L523.38,210.08 L525.10,209.65 L526.82,209.22 L528.54,208.79 L530.26,208.35" fill="none" stroke="#666" stroke-width="1.7"/>
<path d="M322.23,321.90 L322.29,320.38 L322.42,318.88 L322.62,317.38 L322.90,315.89 L323.25,314.42 L323.67,312.97 L324.15,311.54 L324.69,310.13 L325.29,308.75 L325.95,307.39 L326.65,306.06 L327.41,304.77 L328.22,303.50 L329.06,302.25 L329.95,301.04 L330.87,299.86 L331.83,298.71 L332.82,297.58 L333.84,296.48 L334.88,295.41 L335.96,294.36 L337.05,293.34 L338.17,292.35 L339.31,291.38 L340.47,290.43 L341.64,289.50 L342.83,288.60 L344.04,287.72 L345.26,286.85 L346.50,286.01 L347.74,285.19 L349.00,284.38 L350.27,283.59 L351.55,282.82 L352.84,282.06 L354.14,281.32 L355.45,280.59 L356.76,279.88 L358.08,279.18 L359.41,278.49 L360.74,277.82 L362.09,277.16 L363.43,276.51 L364.78,275.88 L366.14,275.25 L367.50,274.63 L368.87,274.03 L370.24,273.43 L371.62,272.85 L373.00,272.27 L374.38,271.70 L375.76,271.14 L377.15,270.59 L378.55,270.05 L379.94,269.51 L381.34,268.98 L382.74,268.46 L384.14,267.95 L385.55,267.44 L386.96,266.94 L388.37,266.44 L389.78,265.95 L391.20,265.47 L392.61,264.99 L394.03,264.52 L395.45,264.05 L396.87,263.59 L398.30,263.13 L399.72,262.68 L401.15,262.23 L402.58,261.79 L404.00,261.35 L405.43,260.91 L406.87,260.48 L408.30,260.05 L409.73,259.63 L411.17,259.20 L412.60,258.79 L414.04,258.37 L415.48,257.96 L416.92,257.56 L418.36,257.15 L419.80,256.75 L421.24,256.35 L422.68,255.95 L424.12,255.56 L425.57,255.17 L427.01,254.78 L428.46,254.39 L429.90,254.01 L431.35,253.63 L432.79,253.25 L434.24,252.87 L435.69,252.50 L437.14,252.12 L438.59,251.75 L440.04,251.38 L441.48,251.01 L442.93,250.65 L444.39,250.28 L445.84,249.92 L447.29,249.55 L448.74,249.19 L450.19,248.83 L451.64,248.48 L453.10,248.12 L454.55,247.76 L456.00,247.41 L457.46,247.06 L458.91,246.70 L460.36,246.35 L461.82,246.00 L463.27,245.65 L464.73,245.31 L466.18,244.96 L467.64,244.61 L469.09,244.27 L470.55,243.92 L472.00,243.58 L473.46,243.23 L474.92,242.89 L476.37,242.55 L477.83,242.20 L479.28,241.86 L480.74,241.52 L482.20,241.18 L483.65,240.84 L485.11,240.50 L486.57,240.16 L488.02,239.82 L489.48,239.48 L490.94,239.15 L492.40,238.81 L493.85,238.47 L495.31,238.13 L496.77,237.79 L498.23,237.46 L499.68,237.12 L501.14,236.78 L502.60,236.45 L504.05,236.11 L505.51,235.77 L506.97,235.44 L508.43,235.10 L509.88,234.76 L511.34,234.42 L512.80,234.09 L514.26,233.75 L515.71,233.41 L517.17,233.08 L518.63,232.74 L520.09,232.40 L521.54,232.06 L523.00,231.73 L524.46,231.39 L525.92,231.06 L527.38,230.72 L528.83,230.38 L530.29,230.05" fill="none" stroke="#666" stroke-width="1.8" stroke-dasharray="5.3 4.1"/>
<path d="M371.57,321.90 L371.51,320.78 L371.52,319.66 L371.61,318.53 L371.77,317.41 L372.00,316.30 L372.30,315.20 L372.66,314.11 L373.09,313.05 L373.56,312.01 L374.09,310.99 L374.67,310.00 L375.28,309.03 L375.94,308.08 L376.63,307.17 L377.35,306.27 L378.10,305.41 L378.88,304.56 L379.68,303.74 L380.51,302.95 L381.35,302.17 L382.21,301.42 L383.09,300.69 L383.99,299.97 L384.89,299.28 L385.81,298.60 L386.74,297.94 L387.68,297.30 L388.64,296.67 L389.60,296.05 L390.56,295.45 L391.54,294.86 L392.52,294.28 L393.51,293.72 L394.50,293.17 L395.50,292.63 L396.51,292.10 L397.52,291.58 L398.54,291.07 L399.56,290.57 L400.58,290.08 L401.61,289.59 L402.64,289.12 L403.68,288.66 L404.72,288.20 L405.76,287.75 L406.80,287.31 L407.85,286.87 L408.90,286.45 L409.96,286.03 L411.01,285.61 L412.07,285.20 L413.13,284.80 L414.19,284.41 L415.26,284.02 L416.32,283.64 L417.39,283.26 L418.46,282.89 L419.54,282.52 L420.61,282.16 L421.68,281.80 L422.76,281.45 L423.84,281.11 L424.92,280.77 L426.00,280.43 L427.08,280.10 L428.17,279.77 L429.25,279.44 L430.34,279.12 L431.42,278.81 L432.51,278.49 L433.60,278.18 L434.69,277.88 L435.78,277.58 L436.87,277.28 L437.97,276.98 L439.06,276.69 L440.15,276.40 L441.25,276.11 L442.34,275.82 L443.44,275.54 L444.53,275.25 L445.63,274.97 L446.72,274.70 L447.82,274.42 L448.92,274.15 L450.02,273.87 L451.11,273.60 L452.21,273.33 L453.31,273.06 L454.41,272.79 L455.51,272.52 L456.61,272.25 L457.71,271.99 L458.81,271.72 L459.90,271.45 L461.00,271.19 L462.10,270.92 L463.20,270.66 L464.30,270.39 L465.40,270.12 L466.50,269.86 L467.60,269.59 L468.70,269.32 L469.80,269.06 L470.90,268.79 L471.99,268.52 L473.09,268.25 L474.19,267.98 L475.29,267.70 L476.39,267.43 L477.48,267.15 L478.58,266.88 L479.68,266.60 L480.77,266.32 L481.87,266.04 L482.97,265.75 L484.06,265.47 L485.16,265.18 L486.25,264.89 L487.35,264.60 L488.44,264.31 L489.53,264.02 L490.63,263.72 L491.72,263.43 L492.81,263.13 L493.91,262.84 L495.00,262.55 L496.10,262.25 L497.19,261.96 L498.29,261.68 L499.38,261.39 L500.48,261.10 L501.58,260.82 L502.68,260.54 L503.77,260.27 L504.87,259.99 L505.97,259.73 L507.07,259.46 L508.18,259.20 L509.28,258.95 L510.39,258.70 L511.49,258.46 L512.60,258.22 L513.71,257.99 L514.82,257.76 L515.93,257.55 L517.04,257.34 L518.16,257.13 L519.27,256.94 L520.38,256.72 L521.49,256.48 L522.60,256.24 L523.70,256.00 L524.81,255.76 L525.92,255.52 L527.02,255.29 L528.13,255.05 L529.24,254.81 L530.34,254.57" fill="none" stroke="#666" stroke-width="2" stroke-dasharray="2.4 4.5"/>
<path d="M409.60,321.91 L409.56,321.08 L409.58,320.25 L409.66,319.42 L409.79,318.59 L409.97,317.77 L410.21,316.96 L410.49,316.16 L410.81,315.37 L411.18,314.59 L411.58,313.84 L412.02,313.09 L412.48,312.37 L412.98,311.66 L413.50,310.97 L414.04,310.29 L414.61,309.64 L415.19,309.00 L415.80,308.37 L416.41,307.76 L417.05,307.16 L417.69,306.58 L418.35,306.01 L419.02,305.46 L419.70,304.91 L420.39,304.38 L421.09,303.87 L421.79,303.36 L422.51,302.86 L423.23,302.38 L423.95,301.90 L424.69,301.43 L425.43,300.98 L426.17,300.53 L426.92,300.09 L427.68,299.66 L428.43,299.24 L429.20,298.82 L429.96,298.42 L430.73,298.02 L431.51,297.62 L432.28,297.24 L433.06,296.86 L433.85,296.49 L434.63,296.12 L435.42,295.76 L436.21,295.40 L437.01,295.06 L437.80,294.71 L438.60,294.37 L439.40,294.04 L440.20,293.71 L441.00,293.39 L441.81,293.07 L442.62,292.76 L443.42,292.45 L444.23,292.14 L445.04,291.84 L445.86,291.54 L446.67,291.25 L447.49,290.96 L448.30,290.67 L449.12,290.39 L449.94,290.11 L450.76,289.84 L451.58,289.56 L452.40,289.30 L453.22,289.03 L454.05,288.77 L454.87,288.51 L455.70,288.25 L456.52,288.00 L457.35,287.75 L458.18,287.50 L459.00,287.25 L459.83,287.01 L460.66,286.77 L461.49,286.53 L462.32,286.29 L463.15,286.05 L463.99,285.82 L464.82,285.59 L465.65,285.36 L466.48,285.14 L467.32,284.91 L468.15,284.69 L468.99,284.47 L469.82,284.25 L470.66,284.03 L471.49,283.81 L472.33,283.60 L473.16,283.38 L474.00,283.17 L474.84,282.96 L475.67,282.75 L476.51,282.54 L477.35,282.34 L478.19,282.13 L479.02,281.92 L479.86,281.72 L480.70,281.52 L481.54,281.31 L482.38,281.11 L483.22,280.91 L484.06,280.71 L484.90,280.51 L485.73,280.32 L486.57,280.12 L487.41,279.92 L488.25,279.72 L489.09,279.53 L489.93,279.33 L490.77,279.14 L491.61,278.94 L492.45,278.75 L493.29,278.55 L494.13,278.36 L494.98,278.17 L495.82,277.97 L496.66,277.78 L497.50,277.59 L498.34,277.39 L499.18,277.20 L500.02,277.01 L500.86,276.81 L501.70,276.62 L502.54,276.43 L503.38,276.23 L504.22,276.04 L505.06,275.85 L505.90,275.65 L506.74,275.46 L507.58,275.26 L508.42,275.07 L509.26,274.87 L510.10,274.68 L510.94,274.48 L511.78,274.28 L512.62,274.09 L513.46,273.89 L514.30,273.69 L515.14,273.49 L515.98,273.29 L516.82,273.09 L517.66,272.89 L518.49,272.69 L519.33,272.48 L520.17,272.28 L521.01,272.07 L521.85,271.87 L522.69,271.68 L523.53,271.50 L524.38,271.32 L525.22,271.14 L526.06,270.96 L526.91,270.78 L527.75,270.60 L528.59,270.42 L529.44,270.24 L530.28,270.06" fill="none" stroke="#666" stroke-width="1.7"/>
<path d="M447.68,321.92 L447.65,321.37 L447.66,320.84 L447.71,320.31 L447.79,319.78 L447.90,319.25 L448.04,318.72 L448.22,318.19 L448.42,317.67 L448.65,317.16 L448.91,316.65 L449.19,316.16 L449.49,315.67 L449.81,315.19 L450.14,314.72 L450.50,314.26 L450.87,313.81 L451.25,313.36 L451.65,312.93 L452.06,312.51 L452.47,312.09 L452.90,311.68 L453.34,311.29 L453.78,310.89 L454.24,310.51 L454.70,310.14 L455.17,309.77 L455.64,309.41 L456.12,309.05 L456.60,308.70 L457.09,308.36 L457.59,308.03 L458.08,307.70 L458.59,307.37 L459.09,307.06 L459.60,306.74 L460.12,306.44 L460.63,306.13 L461.15,305.84 L461.68,305.54 L462.20,305.25 L462.73,304.97 L463.26,304.69 L463.79,304.42 L464.33,304.14 L464.86,303.88 L465.40,303.61 L465.94,303.35 L466.48,303.10 L467.03,302.84 L467.57,302.59 L468.12,302.35 L468.67,302.10 L469.22,301.86 L469.77,301.63 L470.32,301.39 L470.88,301.16 L471.43,300.93 L471.99,300.71 L472.54,300.48 L473.10,300.26 L473.66,300.05 L474.22,299.83 L474.78,299.62 L475.35,299.41 L475.91,299.20 L476.47,298.99 L477.04,298.79 L477.60,298.58 L478.17,298.38 L478.73,298.19 L479.30,297.99 L479.87,297.80 L480.44,297.60 L481.01,297.41 L481.58,297.22 L482.15,297.04 L482.72,296.85 L483.29,296.67 L483.86,296.48 L484.43,296.30 L485.01,296.12 L485.58,295.94 L486.15,295.77 L486.73,295.59 L487.30,295.42 L487.88,295.24 L488.45,295.07 L489.03,294.90 L489.60,294.73 L490.18,294.56 L490.76,294.40 L491.33,294.23 L491.91,294.06 L492.49,293.90 L493.07,293.74 L493.64,293.57 L494.22,293.41 L494.80,293.25 L495.38,293.09 L495.96,292.93 L496.54,292.78 L497.12,292.62 L497.70,292.46 L498.28,292.31 L498.86,292.15 L499.44,292.00 L500.02,291.84 L500.60,291.69 L501.18,291.53 L501.76,291.38 L502.34,291.23 L502.92,291.08 L503.50,290.93 L504.08,290.78 L504.66,290.63 L505.24,290.48 L505.83,290.33 L506.41,290.18 L506.99,290.03 L507.57,289.88 L508.15,289.73 L508.73,289.58 L509.32,289.44 L509.90,289.29 L510.48,289.14 L511.06,288.99 L511.65,288.85 L512.23,288.70 L512.81,288.55 L513.39,288.40 L513.97,288.26 L514.56,288.11 L515.14,287.96 L515.72,287.82 L516.30,287.67 L516.89,287.52 L517.47,287.37 L518.05,287.23 L518.63,287.08 L519.21,286.93 L519.80,286.78 L520.38,286.63 L520.96,286.49 L521.54,286.34 L522.13,286.20 L522.71,286.07 L523.30,285.93 L523.89,285.80 L524.47,285.67 L525.06,285.53 L525.64,285.40 L526.23,285.27 L526.82,285.14 L527.40,285.01 L527.99,284.88 L528.57,284.75 L529.16,284.62 L529.75,284.49 L530.33,284.36" fill="none" stroke="#666" stroke-width="1.8" stroke-dasharray="5.3 4.1"/>
</g>
<rect x="67.40" y="3.45" width="464.20" height="324.85" fill="none" stroke="#666" stroke-width="1"/>
<path d="M76.59,328.30v-3.2 M76.59,3.45v3.2 M91.44,328.30v-3.2 M91.44,3.45v3.2 M106.30,328.30v-5.5 M106.30,3.45v5.5 M121.16,328.30v-3.2 M121.16,3.45v3.2 M136.01,328.30v-3.2 M136.01,3.45v3.2 M150.87,328.30v-3.2 M150.87,3.45v3.2 M165.73,328.30v-5.5 M165.73,3.45v5.5 M180.59,328.30v-3.2 M180.59,3.45v3.2 M195.44,328.30v-3.2 M195.44,3.45v3.2 M210.30,328.30v-3.2 M210.30,3.45v3.2 M225.16,328.30v-5.5 M225.16,3.45v5.5 M240.01,328.30v-3.2 M240.01,3.45v3.2 M254.87,328.30v-3.2 M254.87,3.45v3.2 M269.73,328.30v-3.2 M269.73,3.45v3.2 M284.59,328.30v-5.5 M284.59,3.45v5.5 M299.44,328.30v-3.2 M299.44,3.45v3.2 M314.30,328.30v-3.2 M314.30,3.45v3.2 M329.16,328.30v-3.2 M329.16,3.45v3.2 M344.01,328.30v-5.5 M344.01,3.45v5.5 M358.87,328.30v-3.2 M358.87,3.45v3.2 M373.73,328.30v-3.2 M373.73,3.45v3.2 M388.59,328.30v-3.2 M388.59,3.45v3.2 M403.44,328.30v-5.5 M403.44,3.45v5.5 M418.30,328.30v-3.2 M418.30,3.45v3.2 M433.16,328.30v-3.2 M433.16,3.45v3.2 M448.01,328.30v-3.2 M448.01,3.45v3.2 M462.87,328.30v-5.5 M462.87,3.45v5.5 M477.73,328.30v-3.2 M477.73,3.45v3.2 M492.59,328.30v-3.2 M492.59,3.45v3.2 M507.44,328.30v-3.2 M507.44,3.45v3.2 M522.30,328.30v-5.5 M522.30,3.45v5.5 M67.40,321.90h5.5 M531.60,321.90h-5.5 M67.40,306.30h3.2 M531.60,306.30h-3.2 M67.40,290.70h3.2 M531.60,290.70h-3.2 M67.40,275.10h3.2 M531.60,275.10h-3.2 M67.40,259.50h3.2 M531.60,259.50h-3.2 M67.40,243.90h5.5 M531.60,243.90h-5.5 M67.40,228.30h3.2 M531.60,228.30h-3.2 M67.40,212.70h3.2 M531.60,212.70h-3.2 M67.40,197.10h3.2 M531.60,197.10h-3.2 M67.40,181.50h3.2 M531.60,181.50h-3.2 M67.40,165.90h5.5 M531.60,165.90h-5.5 M67.40,150.30h3.2 M531.60,150.30h-3.2 M67.40,134.70h3.2 M531.60,134.70h-3.2 M67.40,119.10h3.2 M531.60,119.10h-3.2 M67.40,103.50h3.2 M531.60,103.50h-3.2 M67.40,87.90h5.5 M531.60,87.90h-5.5 M67.40,72.30h3.2 M531.60,72.30h-3.2 M67.40,56.70h3.2 M531.60,56.70h-3.2 M67.40,41.10h3.2 M531.60,41.10h-3.2 M67.40,25.50h3.2 M531.60,25.50h-3.2 M67.40,9.90h5.5 M531.60,9.90h-5.5" stroke="#666" stroke-width="1" fill="none"/>
<text x="106.30" y="348.3" text-anchor="middle" font-family="Liberation Sans, sans-serif" font-size="16.5" fill="#666">600</text>
<text x="165.73" y="348.3" text-anchor="middle" font-family="Liberation Sans, sans-serif" font-size="16.5" fill="#666">800</text>
<text x="225.16" y="348.3" text-anchor="middle" font-family="Liberation Sans, sans-serif" font-size="16.5" fill="#666">1000</text>
<text x="284.59" y="348.3" text-anchor="middle" font-family="Liberation Sans, sans-serif" font-size="16.5" fill="#666">1200</text>
<text x="344.01" y="348.3" text-anchor="middle" font-family="Liberation Sans, sans-serif" font-size="16.5" fill="#666">1400</text>
<text x="403.44" y="348.3" text-anchor="middle" font-family="Liberation Sans, sans-serif" font-size="16.5" fill="#666">1600</text>
<text x="462.87" y="348.3" text-anchor="middle" font-family="Liberation Sans, sans-serif" font-size="16.5" fill="#666">1800</text>
<text x="522.30" y="348.3" text-anchor="middle" font-family="Liberation Sans, sans-serif" font-size="16.5" fill="#666">2000</text>
<text x="63.2" y="326.80" text-anchor="end" font-family="Liberation Sans, sans-serif" font-size="16.5" fill="#666">0.00</text>
<text x="63.2" y="248.80" text-anchor="end" font-family="Liberation Sans, sans-serif" font-size="16.5" fill="#666">0.05</text>
<text x="63.2" y="170.80" text-anchor="end" font-family="Liberation Sans, sans-serif" font-size="16.5" fill="#666">0.10</text>
<text x="63.2" y="92.80" text-anchor="end" font-family="Liberation Sans, sans-serif" font-size="16.5" fill="#666">0.15</text>
<text x="63.2" y="14.80" text-anchor="end" font-family="Liberation Sans, sans-serif" font-size="16.5" fill="#666">0.20</text>
<text x="101.33" y="171.7" font-family="Liberation Sans, sans-serif" font-size="16.0" fill="#111" stroke="#111" stroke-width="0.3">1000</text>
<text x="184.93" y="238.5" font-family="Liberation Sans, sans-serif" font-size="16.0" fill="#111" stroke="#111" stroke-width="0.3">100</text>
<text x="283.03" y="282.5" font-family="Liberation Sans, sans-serif" font-size="16.0" fill="#111" stroke="#111" stroke-width="0.3">10</text>
<text x="332.77" y="296.8" font-family="Liberation Sans, sans-serif" font-size="16.0" fill="#111" stroke="#111" stroke-width="0.3">5</text>
<text x="376.00" y="307.6" font-family="Liberation Sans, sans-serif" font-size="16.0" fill="#111" stroke="#111" stroke-width="0.3">2</text>
<text x="404.64" y="310.3" font-family="Liberation Sans, sans-serif" font-size="16.0" fill="#111" stroke="#111" stroke-width="0.3">1</text>
<text x="463.00" y="316.6" font-family="Liberation Sans, sans-serif" font-size="16.0" fill="#111" stroke="#111" stroke-width="0.3">0.5</text>
<text x="264.75" y="377.5" font-family="Liberation Sans, sans-serif" fill="#666" font-size="16.5" font-style="italic">M</text>
<text x="278.6" y="380.8" font-family="Liberation Sans, sans-serif" fill="#666" font-size="13.5" font-style="italic">T</text>
<text x="293.1" y="377.5" font-family="Liberation Sans, sans-serif" fill="#666" font-size="16.5">[GeV]</text>
<text transform="translate(16.2,175) rotate(-90)" font-family="Liberation Sans, sans-serif" font-size="16.5" fill="#666"><tspan font-style="italic">κ</tspan><tspan font-style="italic" font-size="13.8" dy="2.5">T</tspan></text>
</svg>
</body></html>
